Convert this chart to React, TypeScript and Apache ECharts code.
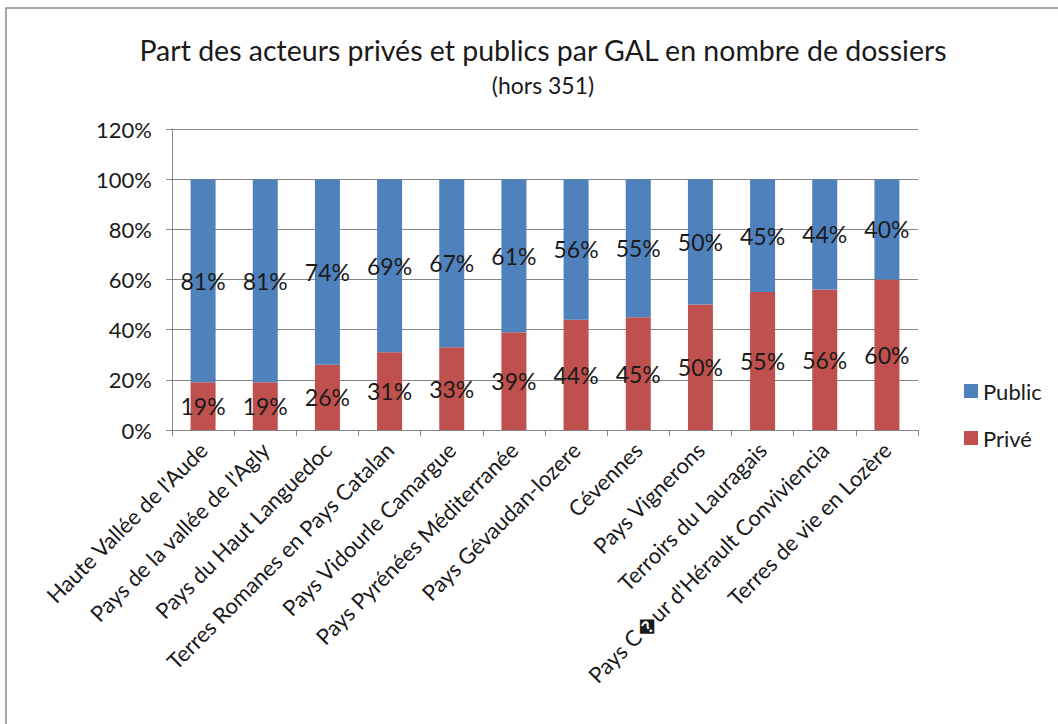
import React, { useEffect, useRef } from "react";
import * as echarts from "echarts";

const categories = [
  "Haute Vallée de l'Aude",
  "Pays de la vallée de l'Agly",
  "Pays du Haut Languedoc",
  "Terres Romanes en Pays Catalan",
  "Pays Vidourle Camargue",
  "Pays Pyrénées Méditerranée",
  "Pays Gévaudan-lozere",
  "Cévennes",
  "Pays Vignerons",
  "Terroirs du Lauragais",
  "Pays C\uFFFDur d'Hérault Conviviencia",
  "Terres de vie en Lozère",
];
const prive = [19, 19, 26, 31, 33, 39, 44, 45, 50, 55, 56, 60];
const publicVals = [81, 81, 74, 69, 67, 61, 56, 55, 50, 45, 44, 40];
const yTicks = { min: 0, max: 120, interval: 20 };

const FONT = "Lato";

export default function App() {
  const ref = useRef<HTMLDivElement>(null);
  useEffect(() => {
    if (!ref.current) return;
    const chart = echarts.init(ref.current, null, { renderer: "svg" });
    const labelStyle = {
      show: true,
      position: "inside",
      color: "#1a1a1a",
      fontSize: 23,
      fontFamily: FONT,
      formatter: (p: any) => p.value + "%",
    };
    chart.setOption({
      animation: false,
      backgroundColor: "#ffffff",
      textStyle: { fontFamily: FONT },
      title: [
        {
          text: "Part des acteurs privés et publics par GAL en nombre de dossiers",
          left: 538,
          top: 30,
          textAlign: "center",
          textStyle: { fontFamily: FONT, fontSize: 28.5, fontWeight: "normal", color: "#1a1a1a" },
        },
        {
          text: "(hors 351)",
          left: 538,
          top: 68,
          textAlign: "center",
          textStyle: { fontFamily: FONT, fontSize: 23, fontWeight: "normal", color: "#1a1a1a" },
        },
      ],
      graphic: [
        {
          type: "rect",
          shape: { x: 6, y: 8, width: 1200, height: 900 },
          style: { fill: "none", stroke: "#8c8c8c", lineWidth: 1.5 },
          silent: true,
        },
      ],
      legend: {
        orient: "vertical",
        left: 959,
        top: 375,
        itemWidth: 14,
        itemHeight: 14,
        itemGap: 25,
        icon: "rect",
        textStyle: { fontFamily: FONT, fontSize: 22, color: "#1a1a1a" },
        data: ["Public", "Privé"],
      },
      grid: { left: 172, right: 140, top: 129, bottom: 294, containLabel: false },
      xAxis: {
        type: "category",
        data: categories,
        axisLine: { lineStyle: { color: "#868686" } },
        axisTick: { show: true, length: 6, lineStyle: { color: "#868686" } },
        axisLabel: {
          rotate: 45,
          interval: 0,
          margin: 16,
          fontSize: 22,
          fontFamily: FONT,
          color: "#1a1a1a",
        },
      },
      yAxis: {
        type: "value",
        min: yTicks.min,
        max: yTicks.max,
        interval: yTicks.interval,
        axisLine: { show: true, lineStyle: { color: "#868686" } },
        axisTick: { show: true, length: 6, lineStyle: { color: "#868686" } },
        splitLine: { lineStyle: { color: "#868686" } },
        axisLabel: {
          formatter: "{value}%",
          fontSize: 22,
          fontFamily: FONT,
          color: "#1a1a1a",
          margin: 20,
        },
      },
      series: [
        {
          name: "Privé",
          type: "bar",
          stack: "total",
          data: prive,
          barWidth: 25,
          itemStyle: { color: "#C0504D" },
          label: labelStyle,
        },
        {
          name: "Public",
          type: "bar",
          stack: "total",
          data: publicVals,
          barWidth: 25,
          itemStyle: { color: "#4F81BD" },
          label: labelStyle,
        },
      ],
    });
    return () => chart.dispose();
  }, []);
  return (
    <div
      ref={ref}
      style={{ position: "fixed", left: 0, top: 0, width: 1058, height: 724 }}
    />
  );
}
